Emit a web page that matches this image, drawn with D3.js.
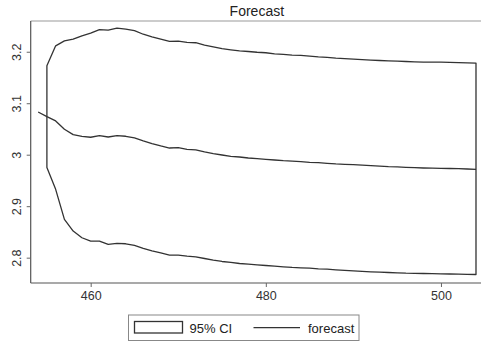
<!DOCTYPE html>
<html>
<head>
<meta charset="utf-8">
<script src="https://cdn.jsdelivr.net/npm/d3@7"></script>
<style>
  body { margin: 0; background: #fff; }
  svg { display: block; font-family: "Liberation Sans", Arial, sans-serif; }
</style>
</head>
<body>
<svg id="chart" width="481" height="345"></svg>
<script>
// forecast periods and values
const periods = d3.range(454, 505);
const forecast = [3.083, 3.074, 3.0656, 3.0494, 3.039, 3.0358, 3.0339, 3.0372, 3.0344, 3.0372,
  3.0358, 3.0325, 3.0267, 3.0216, 3.017, 3.013, 3.0138, 3.0105, 3.0092, 3.0053,
  3.0021, 2.9994, 2.9969, 2.9955, 2.9936, 2.9924, 2.991, 2.9897, 2.9885, 2.9877,
  2.9865, 2.9852, 2.9846, 2.9833, 2.982, 2.9813, 2.9807, 2.9797, 2.9788, 2.9778,
  2.9768, 2.9762, 2.9755, 2.9748, 2.9742, 2.9738, 2.9735, 2.9732, 2.9729, 2.9722, 2.9716];

// 95% CI bounds start one period later
const ciPeriods = d3.range(455, 505);
const upper = [3.1726, 3.2115, 3.221, 3.2245, 3.231, 3.236, 3.243, 3.242, 3.246, 3.244,
  3.241, 3.234, 3.229, 3.2245, 3.22, 3.2206, 3.218, 3.2175, 3.213, 3.2095,
  3.206, 3.2037, 3.2017, 3.2005, 3.199, 3.198, 3.196, 3.1947, 3.1934, 3.1928,
  3.1914, 3.19, 3.189, 3.1876, 3.1866, 3.1856, 3.1846, 3.1837, 3.183, 3.1823,
  3.1817, 3.181, 3.1805, 3.18, 3.1799, 3.1798, 3.1794, 3.179, 3.1785, 3.178];
const lower = [2.975, 2.9327, 2.8743, 2.8516, 2.8387, 2.832, 2.832, 2.8257, 2.8276, 2.827,
  2.8237, 2.8179, 2.8134, 2.8095, 2.805, 2.805, 2.803, 2.8017, 2.7984, 2.7952,
  2.7926, 2.7907, 2.7887, 2.7874, 2.7862, 2.7848, 2.7835, 2.7823, 2.781, 2.7803,
  2.7796, 2.7784, 2.7776, 2.7764, 2.7755, 2.7745, 2.7735, 2.7726, 2.7719, 2.7712,
  2.7705, 2.7698, 2.7695, 2.7693, 2.769, 2.7687, 2.7683, 2.7679, 2.7676, 2.7673];

const xTicks = [460, 480, 500];
const yTicks = [2.8, 2.9, 3, 3.1, 3.2];
const title = 'Forecast';
const legendLabels = ['95% CI', 'forecast'];

const svg = d3.select('#chart');
const plot = { left: 30.7, right: 483, top: 21, bottom: 283 };
const lineColor = '#333';

const x = d3.scaleLinear().domain([453.15, 504.8]).range([plot.left, plot.right]);
const y = d3.scaleLinear().domain([2.7508, 3.2597]).range([plot.bottom, plot.top]);

// title
svg.append('text')
  .attr('x', (plot.left + plot.right) / 2)
  .attr('y', 16)
  .attr('text-anchor', 'middle')
  .attr('font-size', 14)
  .attr('fill', '#222')
  .text(title);

// top frame line
svg.append('line')
  .attr('x1', plot.left).attr('x2', plot.right)
  .attr('y1', plot.top).attr('y2', plot.top)
  .attr('stroke', '#999').attr('stroke-width', 1);

// axes
const xAxis = svg.append('g')
  .attr('transform', 'translate(0,' + plot.bottom + ')')
  .call(d3.axisBottom(x).tickValues(xTicks).tickSize(4).tickPadding(4).tickFormat(d3.format('d')));
const yAxis = svg.append('g')
  .attr('transform', 'translate(' + plot.left + ',0)')
  .call(d3.axisLeft(y).tickValues(yTicks).tickSize(4).tickPadding(4).tickFormat(d => d3.format('')(d)));

[xAxis, yAxis].forEach(g => {
  g.select('.domain').attr('stroke', '#555').attr('stroke-width', 1.2);
  g.selectAll('.tick line').attr('stroke', '#666');
  g.selectAll('.tick text')
    .attr('fill', '#333')
    .attr('font-size', 12.5)
    .attr('font-family', '"Liberation Sans", Arial, sans-serif');
});
xAxis.select('.domain').attr('d', 'M' + plot.left + ',0H' + plot.right);
yAxis.select('.domain').attr('d', 'M0,' + plot.top + 'V' + plot.bottom);
yAxis.selectAll('.tick text')
  .attr('x', null).attr('dy', null)
  .attr('text-anchor', 'middle')
  .attr('transform', 'translate(-10,0) rotate(-90)');

// CI outline (upper forward, lower backward, closed)
const ciPts = ciPeriods.map((p, i) => [x(p), y(upper[i])])
  .concat(ciPeriods.map((p, i) => [x(p), y(lower[i])]).reverse());
svg.append('path')
  .attr('d', d3.line()(ciPts) + 'Z')
  .attr('fill', 'none')
  .attr('stroke', lineColor)
  .attr('stroke-width', 1.3)
  .attr('stroke-linejoin', 'round');

// forecast line
svg.append('path')
  .datum(periods.map((p, i) => ({ p: p, v: forecast[i] })))
  .attr('d', d3.line().x(d => x(d.p)).y(d => y(d.v)))
  .attr('fill', 'none')
  .attr('stroke', lineColor)
  .attr('stroke-width', 1.3)
  .attr('stroke-linejoin', 'round');

// legend
const lg = svg.append('g').attr('transform', 'translate(128.5,315)');
lg.append('rect')
  .attr('width', 230.5).attr('height', 25.5)
  .attr('fill', '#fff').attr('stroke', '#888').attr('stroke-width', 1);
lg.append('rect')
  .attr('x', 6).attr('y', 6.5).attr('width', 48).attr('height', 11.5)
  .attr('fill', '#fff').attr('stroke', lineColor).attr('stroke-width', 1.3);
lg.append('text')
  .attr('x', 61).attr('y', 17.5)
  .attr('font-size', 13).attr('fill', '#222')
  .text(legendLabels[0]);
lg.append('line')
  .attr('x1', 125).attr('x2', 171.5).attr('y1', 12.7).attr('y2', 12.7)
  .attr('stroke', lineColor).attr('stroke-width', 1.3);
lg.append('text')
  .attr('x', 179.5).attr('y', 17.5)
  .attr('font-size', 13).attr('fill', '#222')
  .text(legendLabels[1]);
</script>
</body>
</html>
